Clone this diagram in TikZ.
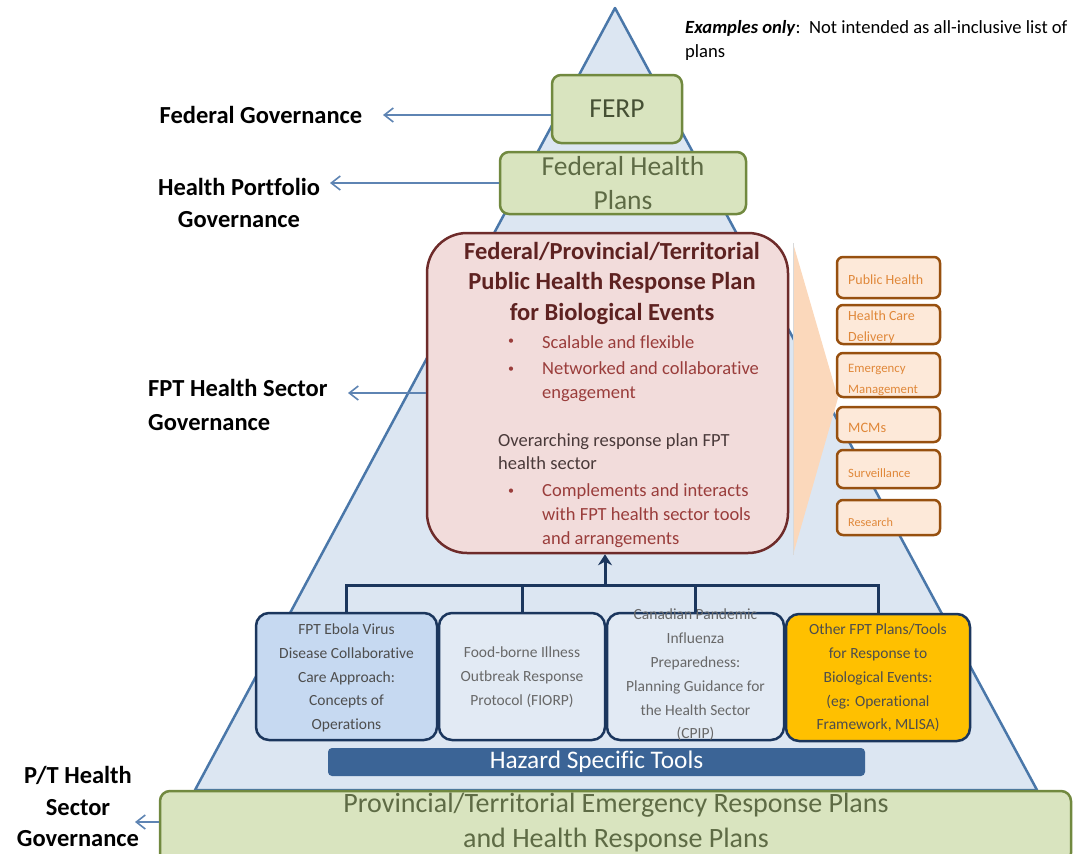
\documentclass[tikz,border=0pt]{standalone}
\usepackage{fontspec}
\setmainfont{Carlito}[Ligatures=NoCommon]
\usetikzlibrary{arrows.meta}
\newcommand{\myfs}[2]{\fontsize{#1}{#2}\selectfont}
\definecolor{triFill}{HTML}{DCE6F2}
\definecolor{triLine}{HTML}{4A77A9}
\definecolor{grnFill}{HTML}{D9E4BF}
\definecolor{grnLine}{HTML}{71893F}
\definecolor{grnText}{HTML}{5E6B45}
\definecolor{pinkFill}{HTML}{F2DCDB}
\definecolor{pinkLine}{HTML}{6E2B2A}
\definecolor{pinkTitle}{HTML}{5E2221}
\definecolor{pinkText}{HTML}{9A3D3B}
\definecolor{pinkGray}{HTML}{4A3A3A}
\definecolor{chevFill}{HTML}{FBD8BB}
\definecolor{orFill}{HTML}{FDE9D9}
\definecolor{orLine}{HTML}{97500F}
\definecolor{orText}{HTML}{E0883A}
\definecolor{navy}{HTML}{1B365D}
\definecolor{ebFill}{HTML}{C6D9F1}
\definecolor{ltFill}{HTML}{E2EAF4}
\definecolor{gold}{HTML}{FFC000}
\definecolor{hzFill}{HTML}{3B6496}
\definecolor{boxText}{HTML}{4D4D4D}
\definecolor{arrBlue}{HTML}{5E84B3}
\tikzset{
  greenbox/.style={draw=grnLine, fill=grnFill, line width=2.5pt, rounded corners=9pt, inner sep=0pt, text=grnText, align=center},
  orbox/.style={draw=orLine, fill=orFill, line width=2.5pt, rounded corners=6pt, minimum width=103pt, inner sep=0pt},
  ortext/.style={anchor=west, align=left, inner sep=0pt, text=orText},
  bluebox/.style={draw=navy, line width=2.5pt, rounded corners=13pt, inner sep=0pt, minimum height=127pt},
  boxtext/.style={align=center, text=boxText, inner sep=0pt, font=\myfs{15.5}{23.8}},
  govlabel/.style={text=black, inner sep=0pt},
  govarrow/.style={draw=arrBlue, line width=1.6pt, -{Straight Barb[length=9pt,width=14pt]}},
  busline/.style={draw=navy, line width=3pt},
  pinktxt/.style={anchor=west, align=left, inner sep=0pt, text=pinkText, font=\myfs{18.5}{24}},
  bul/.style={inner sep=0pt, text=pinkText, font=\myfs{12}{12}}
}
\begin{document}
\begin{tikzpicture}[x=1pt,y=-1pt]
\useasboundingbox (0,0) rectangle (1079,854);
% pyramid
\path[fill=triFill, draw=triLine, line width=2.5pt, line join=round] (615,8) -- (1037,790) -- (195,790) -- cycle;
% note
\node[anchor=west, align=left, inner sep=0pt, font=\myfs{18.6}{24}] (note) at (685,40)
  {\textbf{\textit{Examples only}}:\ \ Not intended as all-inclusive list of\\plans};
% top boxes
\node[greenbox, minimum width=130pt, minimum height=68pt, font=\myfs{27.5}{33}, text=grnText!75!black] (ferp) at (617,109) {FERP};
\node[greenbox, minimum width=246pt, minimum height=62pt, font=\myfs{27.5}{34}] (fhp) at (623,183) {Federal Health\\Plans};
% governance labels
\node[govlabel, font=\bfseries\myfs{24.5}{32}] (fedgov) at (261,115) {Federal Governance};
\node[govlabel, align=center, font=\bfseries\myfs{24.5}{32}] (hpgov) at (239,203) {Health Portfolio\\Governance};
\node[govlabel, anchor=west, align=left, font=\bfseries\myfs{24.5}{34}] (fptgov) at (148,405) {FPT Health Sector\\Governance};
\node[govlabel, align=center, font=\bfseries\myfs{24.5}{31.5}] (ptgov) at (78,806.5) {P/T Health\\Sector\\Governance};
% chevron
\path[fill=chevFill] (793,243) -- (838,398) -- (793,555) -- cycle;
\draw[black!15, line width=0.8pt] (793,243) -- (793,555);
% right orange boxes
\node[orbox, minimum height=41pt] (o1) at (888.5,277.5) {};
\node[orbox, minimum height=39pt] (o2) at (888.5,324.5) {};
\node[orbox, minimum height=44pt] (o3) at (888.5,375) {};
\node[orbox, minimum height=35pt] (o4) at (888.5,424.5) {};
\node[orbox, minimum height=38pt] (o5) at (888.5,469) {};
\node[orbox, minimum height=35pt] (o6) at (888.5,517.5) {};
\node[ortext, font=\myfs{14}{21}] (o1t) at (848,280) {Public Health};
\node[ortext, font=\myfs{14}{21}] (o2t) at (848,327.5) {Health Care\\Delivery};
\node[ortext, font=\myfs{12.8}{21}] (o3t) at (848,379.5) {Emergency\\Management};
\node[ortext, font=\myfs{14.4}{21}] (o4t) at (848,428) {MCMs};
\node[ortext, font=\myfs{12.7}{21}] (o5t) at (848,473) {Surveillance};
\node[ortext, font=\myfs{12.2}{21}] (o6t) at (848,522) {Research};
% central plan
\node[draw=pinkLine, fill=pinkFill, line width=2.5pt, rounded corners=40pt, minimum width=361pt, minimum height=320pt, inner sep=0pt] (pink) at (607.5,393) {};
\node[font=\bfseries\myfs{24.5}{30.5}, text=pinkTitle, align=center, inner sep=0pt] (ptitle) at (612,283)
  {Federal/Provincial/Territorial\\Public Health Response Plan\\for Biological Events};
\node[bul] (d1) at (511,342) {•};
\node[bul] (d2) at (511,370) {•};
\node[bul] (d3) at (511,492) {•};
\node[pinktxt] (t1) at (542,342) {Scalable and flexible};
\node[pinktxt] (t2) at (542,382) {Networked and collaborative\\engagement};
\node[pinktxt, text=pinkGray, font=\myfs{18.5}{23}] (t3) at (498,451.5) {Overarching response plan FPT\\health sector};
\node[pinktxt] (t4) at (542,516) {Complements and interacts\\with FPT health sector tools\\and arrangements};
% governance arrows
\coordinate (fedTip) at (383,115);
\coordinate (hpTip) at (330,183);
\coordinate (fptTip) at (348,393);
\coordinate (ptTip) at (135,822);
\draw[govarrow] (ferp.west |- fedTip) -- (fedTip);
\draw[govarrow] (fhp.west) -- (hpTip);
\draw[govarrow] (pink.west) -- (fptTip);
% bottom tool boxes
\node[bluebox, fill=ebFill, minimum width=181pt] (b1) at (346.5,676.5) {};
\node[bluebox, fill=ltFill, minimum width=166pt] (b2) at (522,676.5) {};
\node[bluebox, fill=ltFill, minimum width=177pt] (b3) at (695.5,676.5) {};
\node[bluebox, fill=gold, minimum width=184pt] (b4) at (878,677.5) {};
\node[boxtext] (b1t) at (346.5,678) {FPT Ebola Virus\\Disease Collaborative\\Care Approach:\\Concepts of\\Operations};
\node[boxtext, text=boxText!85!white] (b2t) at (522,677) {Food-borne Illness\\Outbreak Response\\Protocol (FIORP)};
\node[boxtext, text=boxText!85!white] (b3t) at (695.5,675) {Canadian Pandemic\\Influenza\\Preparedness:\\Planning Guidance for\\the Health Sector\\(CPIP)};
\node[boxtext] (b4t) at (878,678) {Other FPT Plans/Tools\\for Response to\\Biological Events:\\(eg: Operational\\Framework, MLISA)};
% bus connector
\coordinate (bus) at (605,585);
\draw[busline] (b1.north) |- (bus) -| (b4.north);
\draw[busline] (b2.north) -- (b2.north |- bus);
\draw[busline] (b3.north) -- (b3.north |- bus);
\draw[busline, -{Stealth[length=11pt,width=14pt]}] (bus) -- (bus |- pink.south);
% hazard bar
\node[fill=hzFill, rounded corners=4pt, minimum width=537pt, minimum height=28pt, inner sep=0pt, text=white, font=\myfs{25.3}{28}] (hz) at (596.5,762) {Hazard Specific Tools};
% bottom P/T plans
\node[greenbox, minimum width=911pt, minimum height=72pt, rounded corners=10pt] (pt) at (615.5,827) {};
\node[inner sep=0pt, align=center, text=grnText, font=\myfs{28}{35}] (ptt) at (616,822.5) {Provincial/Territorial Emergency Response Plans\\and Health Response Plans};
\draw[govarrow] (pt.west |- ptTip) -- (ptTip);
\end{tikzpicture}
\end{document}
